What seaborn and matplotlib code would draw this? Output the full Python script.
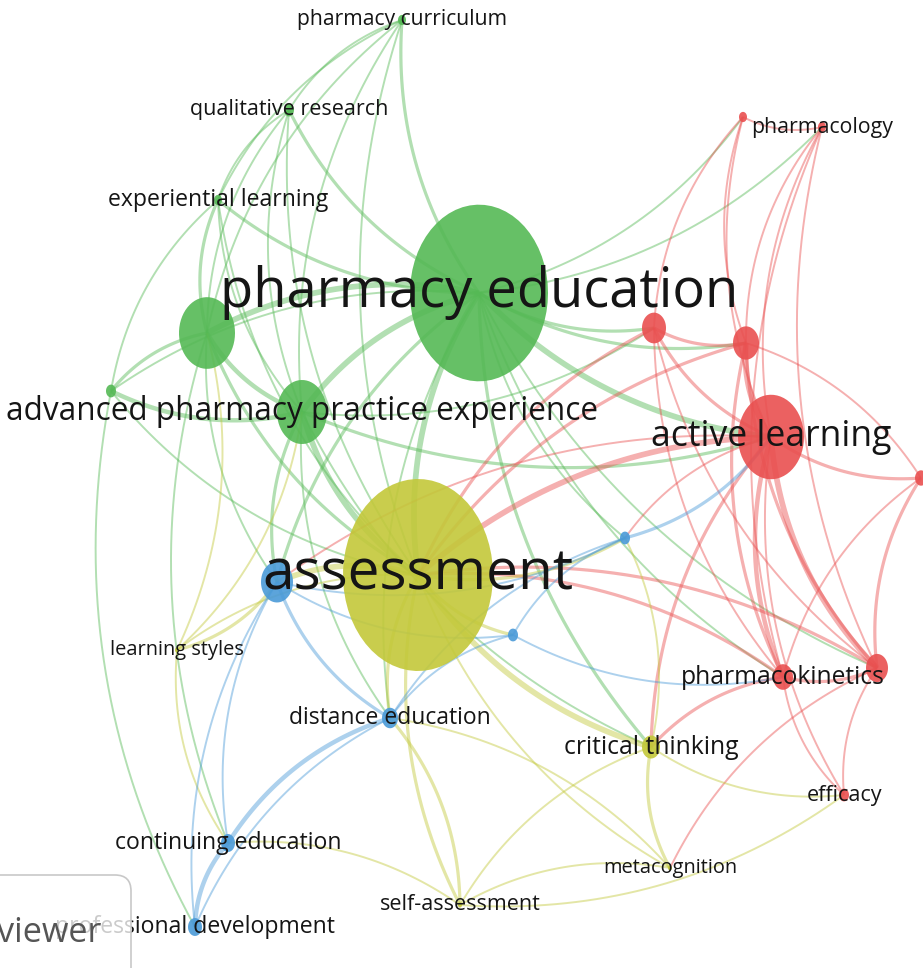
import numpy as np
import pandas as pd
import matplotlib
matplotlib.use("Agg")
import matplotlib.pyplot as plt
import seaborn as sns
from matplotlib.path import Path
from matplotlib.markers import MarkerStyle
from matplotlib.collections import LineCollection
from matplotlib.patches import FancyBboxPatch

# keyword map (positions, pixel units)
labels = ["pharmacy curriculum", "qualitative research", "experiential learning",
          "pharmacy education", "", "", "advanced pharmacy practice experience",
          "", "pharmacology", "", "", "active learning", "",
          "pharmacokinetics", "", "efficacy",
          "assessment", "critical thinking", "metacognition", "self-assessment",
          "learning styles",
          "", "", "", "distance education", "continuing education",
          "professional development"]
node_x = [402, 289, 218, 479, 207, 111, 302,
          743, 822, 654, 746, 771, 921, 783, 877, 844,
          418, 651, 670, 460, 177,
          277, 625, 513, 390, 228, 195]
node_y = [20, 110, 200, 293, 333, 391, 412,
          117, 127, 328, 343, 437, 478, 677, 668, 795,
          575, 747, 868, 905, 650,
          582, 538, 635, 718, 843, 927]
node_r = [4, 5, 4, 69, 28, 5, 25,
          4, 4, 12, 13, 33, 6, 10, 11, 5,
          75, 9, 2, 2, 2,
          16, 5, 5, 8, 7, 7]
cluster = ["green"] * 7 + ["red"] * 9 + ["yellow"] * 5 + ["blue"] * 6
# label widths in pixels
label_w = [210, 197, 219, 516, 0, 0, 588,
           0, 141, 0, 0, 240, 0, 202, 0, 75,
           310, 174, 133, 159, 133,
           0, 0, 0, 200, 225, 278]

# links: source, target, strength
edges = [
    (0, 1, 1), (0, 2, 1), (0, 3, 2), (0, 4, 1), (0, 6, 1), (0, 16, 1),
    (1, 2, 1), (1, 3, 2), (1, 4, 1), (1, 6, 1), (1, 16, 1),
    (2, 3, 2), (2, 4, 2), (2, 6, 1), (2, 16, 1), (2, 5, 1),
    (3, 4, 4), (3, 6, 4), (3, 16, 4), (3, 9, 2), (3, 10, 2), (3, 11, 4),
    (3, 21, 2), (3, 13, 1), (3, 14, 1), (3, 17, 2), (3, 24, 1), (3, 22, 1),
    (3, 5, 1), (3, 7, 1), (3, 8, 1),
    (4, 5, 2), (4, 6, 3), (4, 16, 2), (4, 21, 1), (4, 25, 1),
    (5, 6, 3), (5, 16, 1), (5, 26, 1),
    (6, 16, 4), (6, 21, 2), (6, 11, 2), (6, 24, 1), (6, 9, 1), (6, 17, 1),
    (7, 8, 1), (7, 9, 1), (7, 10, 1), (7, 11, 1),
    (8, 10, 1), (8, 11, 1), (8, 13, 1), (8, 14, 1),
    (9, 10, 2), (9, 11, 2), (9, 13, 1), (9, 14, 1), (9, 16, 2),
    (10, 11, 4), (10, 13, 2), (10, 14, 2), (10, 16, 2),
    (11, 12, 2), (11, 13, 3), (11, 14, 4), (11, 16, 4), (11, 15, 1),
    (11, 17, 2), (11, 22, 1), (11, 21, 1),
    (12, 14, 2), (12, 13, 1), (12, 10, 1),
    (13, 14, 2), (13, 15, 1), (13, 16, 2), (13, 17, 2),
    (14, 15, 1), (14, 16, 2), (14, 18, 1),
    (16, 17, 4), (16, 18, 1), (16, 19, 2), (16, 20, 1), (16, 21, 4),
    (16, 22, 2), (16, 23, 2), (16, 24, 2),
    (17, 18, 2), (17, 19, 1), (17, 22, 1), (17, 15, 1),
    (18, 19, 1), (18, 24, 1), (19, 24, 2), (19, 25, 1), (19, 15, 1),
    (20, 21, 2), (20, 25, 1), (20, 4, 1), (20, 6, 1),
    (21, 24, 2), (21, 25, 1), (21, 26, 1), (21, 22, 1), (21, 23, 1),
    (22, 23, 1), (22, 24, 1), (22, 11, 2), (23, 24, 1), (23, 13, 1),
    (24, 25, 3), (24, 26, 1), (25, 26, 3),
]

colors = {"green": "#55b955", "red": "#e95050", "yellow": "#c3c83a", "blue": "#4a9ad8"}
stretch = 1.28  # picture is stretched vertically

df = pd.DataFrame({"label": labels, "x": node_x, "y": node_y, "r": node_r,
                   "cluster": cluster, "w": label_w})
df["s"] = (2 * stretch * 0.72 * df["r"]) ** 2
df = df.sort_values("r", ascending=False)

fig = plt.figure(figsize=(9.23, 9.68), dpi=100)
ax = fig.add_axes([0, 0, 1, 1])
ax.set_xlim(0, 923)
ax.set_ylim(968, 0)
ax.axis("off")

# curved links
segs, cols, lws = [], [], []
t = np.linspace(0, 1, 40)[:, None]
for s, e, w in edges:
    p0 = np.array([node_x[s], node_y[s]], float)
    p2 = np.array([node_x[e], node_y[e]], float)
    d = p2 - p0
    perp = np.array([-d[1], d[0]])
    p1 = (p0 + p2) / 2 + 0.18 * perp
    pts = (1 - t) ** 2 * p0 + 2 * (1 - t) * t * p1 + t ** 2 * p2
    segs.append(pts)
    cols.append(matplotlib.colors.to_rgba(colors[cluster[s]], 0.45))
    lws.append(0.5 + 0.9 * w)
ax.add_collection(LineCollection(segs, colors=cols, linewidths=lws, zorder=1))

# elliptic node marker
th = np.linspace(0, 2 * np.pi, 60)
ell = Path(np.column_stack([np.cos(th), stretch * np.sin(th)]), closed=True)
smin, smax = df["s"].min(), df["s"].max()
sns.scatterplot(data=df, x="x", y="y", hue="cluster", palette=colors,
                size="s", sizes=(smin, smax), size_norm=(smin, smax),
                marker=MarkerStyle(ell), alpha=0.9, linewidth=0,
                legend=False, ax=ax, zorder=2)

renderer = fig.canvas.get_renderer()
for _, row in df.iterrows():
    if not row["label"]:
        continue
    txt = ax.text(row["x"], row["y"], row["label"], ha="center", va="center",
                  fontsize=12, family=["Open Sans", "DejaVu Sans"],
                  color="#151515", zorder=4)
    bb = txt.get_window_extent(renderer=renderer)
    txt.set_fontsize(12 * row["w"] / bb.width)

# VOSviewer badge in the corner
box = FancyBboxPatch((-30, 875), 161, 130, boxstyle="round,pad=0,rounding_size=16",
                     fc=(1, 1, 1, 0.78), ec="#c8c8c8", lw=1.2, zorder=5)
ax.add_patch(box)
vt = ax.text(101, 933, "viewer", ha="right", va="center", fontsize=12,
             family=["Open Sans", "DejaVu Sans"], color="#555555", zorder=6)
bb = vt.get_window_extent(renderer=renderer)
vt.set_fontsize(12 * 104 / bb.width)

fig.savefig("out.png", dpi=100, facecolor="white")
plt.close(fig)
